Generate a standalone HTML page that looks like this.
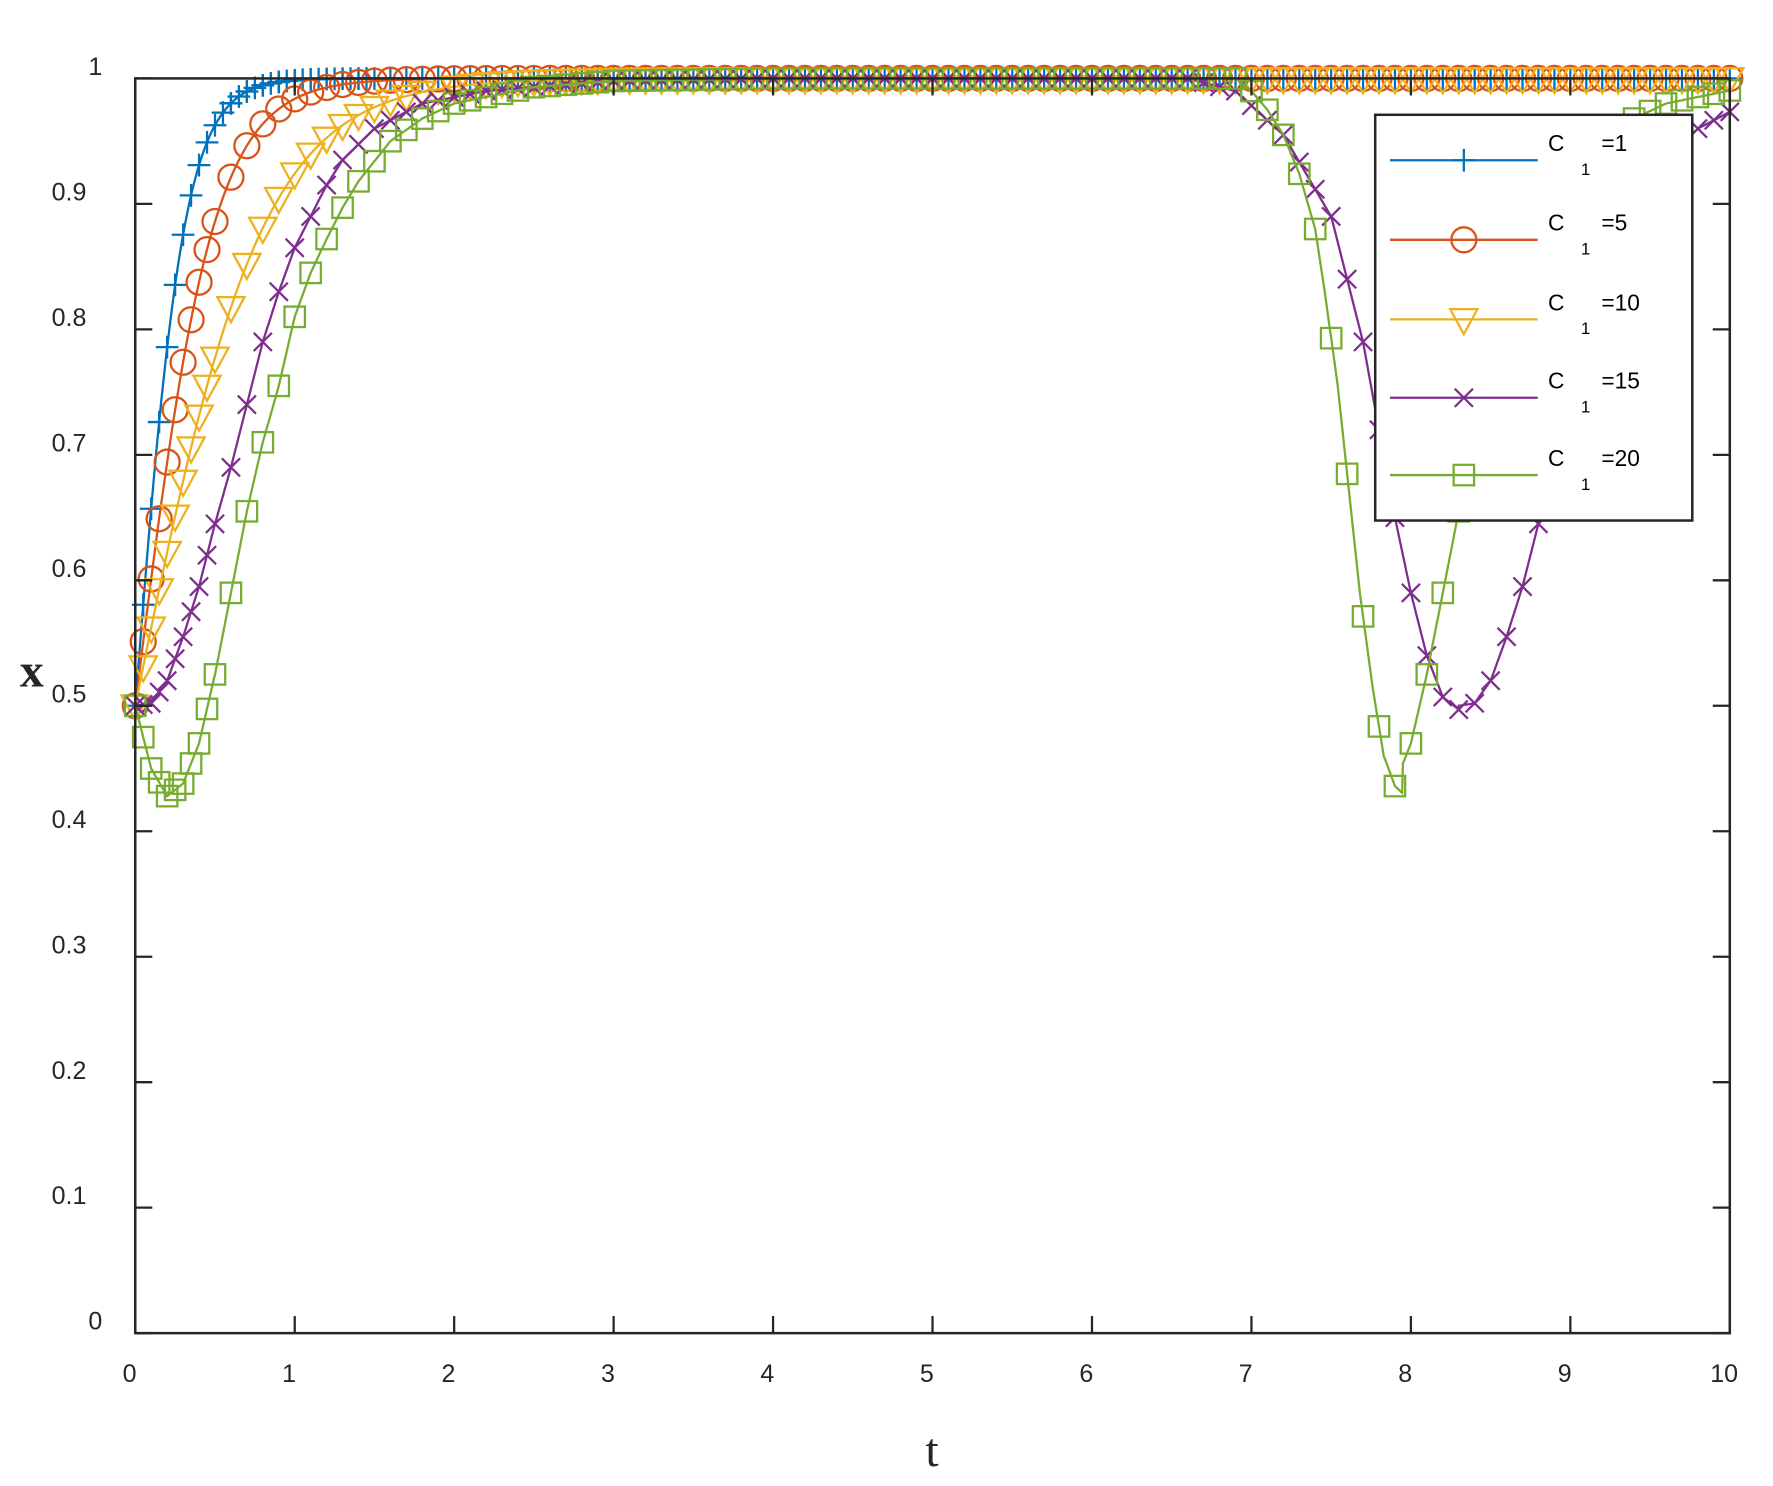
<!DOCTYPE html>
<html><head><meta charset="utf-8">
<style>html,body{margin:0;padding:0;background:#fff;}svg{display:block;}</style>
</head><body>
<svg id="s" width="1773" height="1486" viewBox="0 0 1560 1307.5" xmlns="http://www.w3.org/2000/svg" font-family="Liberation Sans, sans-serif">
<rect x="0" y="0" width="1560" height="1307.5" fill="#fff"/>
<g id="plot"></g>
<g id="axes" stroke="#262626" stroke-width="2.2" fill="none">
<rect x="119" y="69" width="1403" height="1104"/>
</g>
<g id="ticks" stroke="#262626" stroke-width="2"></g>
<g id="labels" fill="#262626" font-size="22"></g>
<text x="28" y="604" font-family="Liberation Serif, serif" font-size="42" font-weight="bold" fill="#262626" text-anchor="middle">x</text>
<text x="820" y="1290" font-family="Liberation Serif, serif" font-size="42" fill="#262626" text-anchor="middle">t</text>
<g id="legend"></g>
</svg>
<script>
const X0=119,X1=1522,Y0=1173,Y1=69;
const px=t=>X0+(X1-X0)*t/10, py=v=>Y0-(Y0-Y1)*v;
function interp(k,t){if(t<=k[0][0])return k[0][1];for(let i=1;i<k.length;i++){if(t<=k[i][0]){const a=k[i-1],b=k[i];return a[1]+(b[1]-a[1])*(t-a[0])/(b[0]-a[0]);}}return k[k.length-1][1];}
const gE=[[0,0.5],[0.1,0.45],[0.2,0.428],[0.3,0.438],[0.4,0.47],[0.5,0.525],[0.6,0.59],[0.7,0.655],[0.8,0.71],[0.9,0.755],[1.0,0.81],[1.1,0.845],[1.2,0.872],[1.3,0.897],[1.4,0.918],[1.6,0.95],[1.8,0.968],[2,0.98],[2.5,0.993],[3,0.998],[4,1]];
const gL=[[6.9,1],[7.0,0.99],[7.1,0.975],[7.2,0.955],[7.3,0.924],[7.4,0.88],[7.46,0.83],[7.54,0.756],[7.61,0.673],[7.68,0.59],[7.76,0.515],[7.83,0.46],[7.9,0.436],[7.95,0.43]];
const pE=[[0,0.5],[0.1,0.502],[0.2,0.52],[0.3,0.555],[0.4,0.595],[0.5,0.645],[0.6,0.69],[0.7,0.74],[0.8,0.79],[0.9,0.83],[1,0.865],[1.1,0.89],[1.2,0.915],[1.3,0.935],[1.5,0.96],[1.8,0.98],[2.2,0.99],[3,0.998],[4,1]];
const pL=[[6.6,1],[6.9,0.99],[7.2,0.955],[7.5,0.89],[7.7,0.79],[7.9,0.65],[8.0,0.59],[8.1,0.54],[8.2,0.507],[8.3,0.497]];
const log=k=>t=>1/(1+Math.exp(-k*t));
const f={
 b:log(6.5), o:log(4.1), y:log(2.5),
 p:t=>t<6.6?interp(pE,t):(t<8.3?interp(pL,t):interp(pE,t-8.3)),
 g:t=>t<6.9?interp(gE,t):(t<7.95?interp(gL,t):interp(gE,t-7.6))
};
const cols={b:'#0072BD',o:'#D95319',y:'#EDB120',p:'#7E2F8E',g:'#77AC30'};
function marker(k,x,y){const c=cols[k];
 if(k=='b')return `<path d="M${x-10} ${y}H${x+10}M${x} ${y-10}V${y+10}" stroke="${c}" stroke-width="2" fill="none"/>`;
 if(k=='o')return `<circle cx="${x}" cy="${y}" r="11" stroke="${c}" stroke-width="2" fill="none"/>`;
 if(k=='y')return `<path d="M${x-12} ${y-9}H${x+12}L${x} ${y+13}Z" stroke="${c}" stroke-width="2" fill="none"/>`;
 if(k=='p')return `<path d="M${x-8} ${y-8}L${x+8} ${y+8}M${x-8} ${y+8}L${x+8} ${y-8}" stroke="${c}" stroke-width="2" fill="none"/>`;
 return `<rect x="${x-9}" y="${y-9}" width="18" height="18" stroke="${c}" stroke-width="2" fill="none"/>`;}
let h='';
for(const k of ['b','o','y','p','g']){
 let d='';for(let i=0;i<=2000;i++){const t=i/200;d+=(i?'L':'M')+px(t).toFixed(1)+' '+py(f[k](t)).toFixed(1);}
 h+=`<path d="${d}" stroke="${cols[k]}" stroke-width="2" fill="none"/>`;
 const ts=[];for(let t=0;t<=0.5;t+=0.05)ts.push(t);for(let t=0.6;t<=10.001;t+=0.1)ts.push(t);
 if(k=='b'){for(let t=0.55;t<1.5;t+=0.05)ts.push(t);}
 for(const t of ts)h+=marker(k,px(t),py(f[k](t)));
}
document.getElementById('plot').innerHTML=h;
let tk='',lb='';
for(let i=0;i<=10;i++){const x=px(i);tk+=`<line x1="${x}" y1="${Y0}" x2="${x}" y2="${Y0-15}"/><line x1="${x}" y1="${Y1}" x2="${x}" y2="${Y1+15}"/>`;
 lb+=`<text x="${x-5}" y="1216" text-anchor="middle">${i}</text>`;}
for(let i=0;i<=10;i++){const v=i/10,y=py(v);tk+=`<line x1="${X0}" y1="${y}" x2="${X0+15}" y2="${y}"/><line x1="${X1}" y1="${y}" x2="${X1-15}" y2="${y}"/>`;
 lb+=`<text x="${i==10||i==0?90:76}" y="${y-3}" text-anchor="end">${i==10?'1':i==0?'0':'0.'+i}</text>`;}
document.getElementById('ticks').innerHTML=tk;document.getElementById('labels').innerHTML=lb;
let lg=`<rect x="1210" y="101" width="279" height="357" fill="#fff" stroke="#262626" stroke-width="2.2"/>`;
const names=[['b','=1'],['o','=5'],['y','=10'],['p','=15'],['g','=20']];const ys=[141,211,281,350,418];
names.forEach(([k,n],i)=>{const y=ys[i];lg+=`<line x1="1223" y1="${y}" x2="1353" y2="${y}" stroke="${cols[k]}" stroke-width="2"/>`+marker(k,1288,y)+
 `<text x="1362" y="${y-8}" font-size="20" fill="#000">C</text><text x="1391" y="${y+13}" font-size="15" fill="#000">1</text><text x="1409" y="${y-8}" font-size="20" fill="#000">${n}</text>`;});
document.getElementById('legend').innerHTML=lg;
</script>
</body></html>
